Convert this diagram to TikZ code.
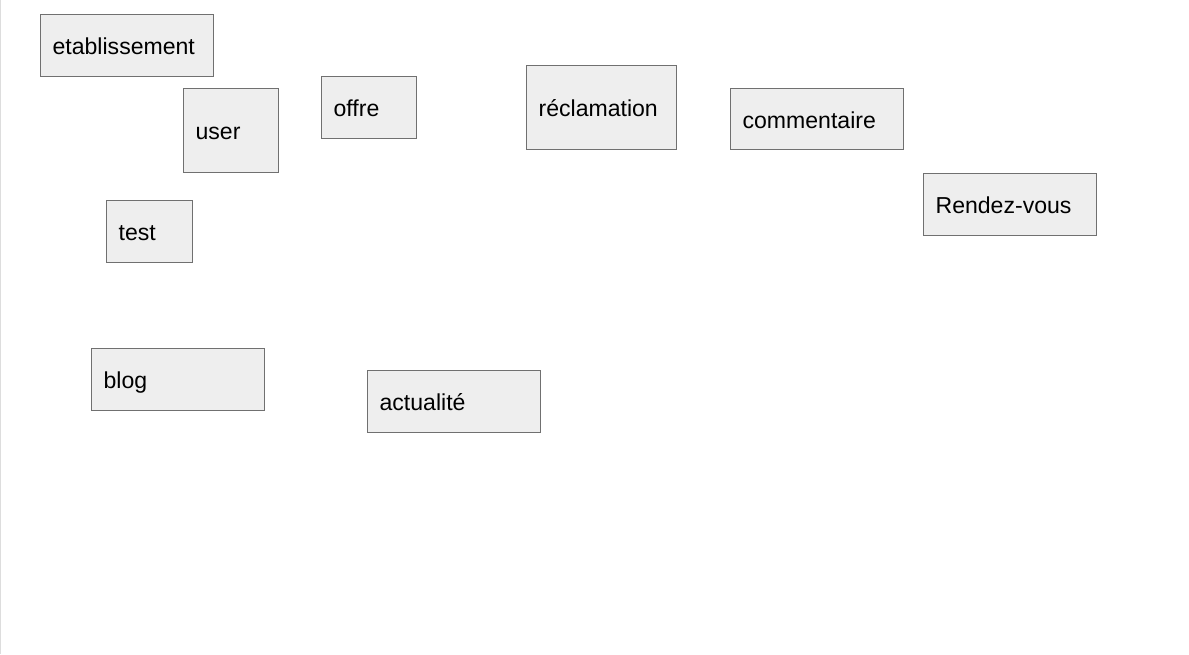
\documentclass[tikz,border=0pt]{standalone}
\usepackage{fontspec}
\setmainfont{Liberation Sans}
\definecolor{boxfill}{HTML}{EEEEEE}
\definecolor{boxline}{HTML}{707070}
\definecolor{edge}{HTML}{DDDDDD}
\tikzset{
  entity/.style n args={2}{draw=boxline, fill=boxfill, line width=0.9pt,
    anchor=north west, inner xsep=9pt, inner ysep=0pt,
    minimum width={#1*0.75pt}, minimum height={#2*0.75pt},
    text width={(#1-24)*0.75pt}, align=left,
    text height=15pt, text depth=1.5pt,
    font=\fontsize{17.3pt}{20pt}\selectfont, text=black}
}
\begin{document}
\begin{tikzpicture}[x=0.75pt,y=-0.75pt]
\useasboundingbox (0,0) rectangle (1189,654);
\fill[white] (0,0) rectangle (1189,654);
\coordinate (lt) at (0.6,0);
\coordinate (lb) at (0.6,654);
\draw[edge, line width=0.9pt] (lt) -- (lb);
\node[entity={173}{62}] (etab) at (40,14) {etablissement};
\node[entity={95}{84}] (user) at (183,88) {user};
\node[entity={95}{62}] (offre) at (321,76) {offre};
\node[entity={150}{84}] (recl) at (526,65) {réclamation};
\node[entity={173}{61}] (comm) at (730,88) {commentaire};
\node[entity={173}{62}] (rdv) at (923,173) {Rendez-vous};
\node[entity={86}{62}] (test) at (106,200) {test};
\node[entity={173}{62}] (blog) at (91,348) {blog};
\node[entity={173}{62}] (actu) at (367,370) {actualité};
\end{tikzpicture}
\end{document}
